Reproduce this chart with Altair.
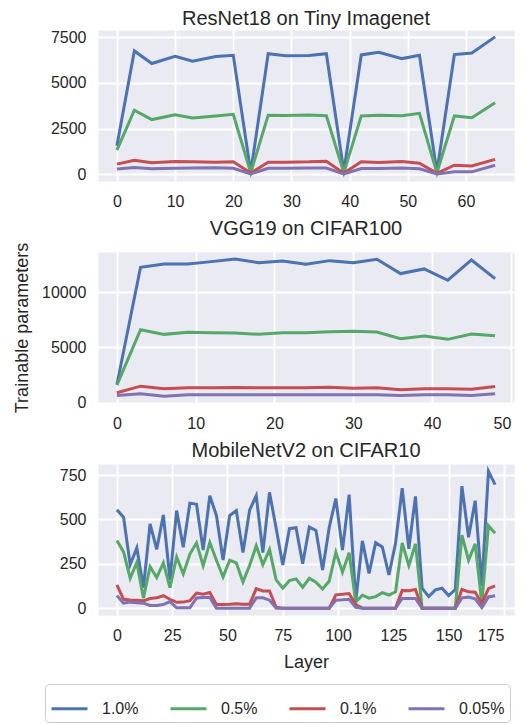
import altair as alt
import pandas as pd

series = ["1.0%", "0.5%", "0.1%", "0.05%"]
colors = ["#4C72B0", "#55A868", "#C44E52", "#8172B2"]

# ResNet18 on Tiny Imagenet
resnet_x = [0, 3, 6, 10, 13, 17, 20, 23, 26, 29, 33, 36, 39, 42, 45, 49, 52, 55, 58, 61, 65]
resnet_100 = [1550, 6750, 6060, 6460, 6190, 6440, 6510, 100, 6600, 6490, 6500, 6600, 150, 6530, 6680, 6330, 6515, 120, 6550, 6640, 7520]
resnet_050 = [1310, 3500, 2990, 3250, 3070, 3190, 3280, 80, 3230, 3210, 3240, 3200, 80, 3190, 3220, 3200, 3330, 80, 3190, 3090, 3910]
resnet_010 = [550, 765, 620, 690, 675, 655, 675, 60, 655, 655, 673, 710, 55, 673, 637, 690, 600, 40, 490, 445, 810]
resnet_005 = [275, 365, 290, 325, 330, 345, 325, 10, 325, 320, 330, 330, 5, 310, 310, 330, 290, 5, 127, 127, 490]

# VGG19 on CIFAR100
vgg_x = [0, 3, 6, 9, 12, 15, 18, 21, 24, 27, 30, 33, 36, 39, 42, 45, 48]
vgg_100 = [1650, 12240, 12540, 12540, 12750, 12990, 12660, 12810, 12510, 12840, 12660, 12960, 11670, 12090, 11070, 12900, 11220]
vgg_050 = [1600, 6600, 6180, 6360, 6330, 6300, 6180, 6330, 6330, 6420, 6450, 6390, 5790, 6030, 5730, 6210, 6060]
vgg_010 = [900, 1500, 1260, 1350, 1350, 1380, 1350, 1350, 1350, 1410, 1320, 1350, 1170, 1260, 1260, 1230, 1470]
vgg_005 = [660, 810, 600, 720, 720, 720, 720, 720, 720, 720, 720, 720, 660, 720, 720, 660, 810]

# MobileNetV2 on CIFAR10
mob_x = [0, 3, 6, 9, 12, 15, 18, 21, 24, 27, 30, 33, 36, 39, 42, 45, 48, 51, 54, 57,
         60, 63, 66, 69, 72, 75, 78, 81, 84, 87, 90, 93, 96, 99, 102, 105, 108, 111, 114, 117,
         120, 123, 126, 129, 132, 135, 138, 141, 144, 147, 150, 153, 156, 159, 162, 165, 168, 171]
mob_100 = [554, 513, 245, 340, 115, 475, 332, 525, 160, 550, 343, 592, 585, 327, 634, 522, 271, 522, 550, 313,
           552, 634, 313, 653, 450, 243, 448, 453, 250, 457, 438, 215, 455, 618, 328, 640, 40, 379, 196, 369,
           345, 187, 367, 676, 335, 630, 112, 65, 103, 112, 71, 105, 688, 400, 606, 125, 772, 696]
mob_050 = [382, 317, 168, 258, 56, 233, 172, 255, 116, 289, 193, 305, 368, 240, 370, 270, 176, 270, 255, 148,
           240, 352, 245, 330, 159, 112, 155, 165, 118, 168, 146, 108, 153, 315, 203, 312, 35, 73, 56, 65,
           87, 74, 92, 367, 240, 362, 0, 0, 0, 0, 0, 0, 412, 270, 362, 27, 465, 422]
mob_010 = [131, 50, 46, 45, 41, 54, 58, 70, 50, 33, 34, 42, 85, 78, 88, 20, 20, 22, 25, 22,
           22, 110, 97, 97, 5, 0, 0, 0, 0, 0, 0, 0, 0, 75, 78, 82, 20, 0, 0, 0,
           0, 0, 0, 100, 98, 105, 0, 0, 0, 0, 0, 0, 105, 92, 90, 25, 110, 125]
mob_005 = [71, 28, 34, 30, 28, 15, 15, 20, 37, 2, 2, 2, 57, 60, 60, 0, 0, 0, 0, 0,
           0, 58, 58, 45, 0, 0, 0, 0, 0, 0, 0, 0, 0, 45, 47, 50, 5, 0, 0, 0,
           0, 0, 0, 55, 55, 55, 0, 0, 0, 0, 0, 0, 58, 62, 52, 3, 63, 70]


def long_df(xs, ys_list):
    rows = []
    for s, ys in zip(series, ys_list):
        for x, y in zip(xs, ys):
            rows.append({"layer": x, "params": y, "pct": s})
    return pd.DataFrame(rows)


FONT = "Liberation Sans"
TXT = "#262626"
W = 416
H = 151

color = alt.Color(
    "pct:N",
    sort=series,
    scale=alt.Scale(domain=series, range=colors),
    legend=alt.Legend(
        title=None, orient="none", legendX=-53, legendY=654,
        direction="horizontal", columns=4,
        symbolType="stroke", symbolStrokeWidth=3, symbolSize=1296,
        labelFontSize=16, labelFont=FONT, labelColor=TXT, labelOffset=13,
        columnPadding=25, padding=5, strokeColor="#cccccc", cornerRadius=4,
        fillColor="white",
    ),
)


def panel(df, title, xdom, xvals, ydom, yvals, xtitle=None, ytitle=None, toff=3):
    xaxis = alt.Axis(values=xvals, format="d", labelPadding=12, labelFlush=12)
    yaxis = alt.Axis(values=yvals, format="d", labelPadding=12)
    if xtitle:
        x = alt.X("layer:Q", title=xtitle, scale=alt.Scale(domain=xdom, nice=False, zero=False), axis=xaxis)
    else:
        x = alt.X("layer:Q", title=None, scale=alt.Scale(domain=xdom, nice=False, zero=False), axis=xaxis)
    if ytitle:
        y = alt.Y("params:Q", title=ytitle, scale=alt.Scale(domain=ydom, nice=False, zero=False), axis=yaxis)
    else:
        y = alt.Y("params:Q", title=None, scale=alt.Scale(domain=ydom, nice=False, zero=False), axis=yaxis)
    return alt.Chart(df).mark_line(strokeWidth=3, clip=True).encode(
        x=x, y=y, color=color, detail="pct:N"
    ).properties(
        width=W, height=H,
        title=alt.TitleParams(title, fontSize=20, font=FONT, color=TXT, fontWeight="normal",
                              offset=toff, frame="group", anchor="middle"),
    )


top = panel(long_df(resnet_x, [resnet_100, resnet_050, resnet_010, resnet_005]),
            "ResNet18 on Tiny Imagenet", [-3.25, 68.25], [0, 10, 20, 30, 40, 50, 60],
            [-376, 7896], [0, 2500, 5000, 7500], toff=0)
mid = panel(long_df(vgg_x, [vgg_100, vgg_050, vgg_010, vgg_005]),
            "VGG19 on CIFAR100", [-2.4, 50.4], [0, 10, 20, 30, 40, 50],
            [-20, 13620], [0, 5000, 10000], ytitle="Trainable parameters")
bot = panel(long_df(mob_x, [mob_100, mob_050, mob_010, mob_005]),
            "MobileNetV2 on CIFAR10", [-8.55, 179.55], [0, 25, 50, 75, 100, 125, 150, 175],
            [-38.7, 812.7], [0, 250, 500, 750], xtitle="Layer")

chart = alt.vconcat(top, mid, bot, spacing=8).resolve_scale(
    x="independent", y="independent"
).properties(
    padding={"left": 5, "top": 0, "right": 0, "bottom": 0},
    background="white",
).configure_view(
    fill="#EAEAF2", stroke="transparent"
).configure_axis(
    domain=False, ticks=False, grid=True, gridColor="white", gridWidth=1.8,
    labelFont=FONT, labelFontSize=16, labelColor=TXT,
    titleFont=FONT, titleFontSize=18, titleColor=TXT, titleFontWeight="normal",
    titlePadding=10,
)

chart.save("out.html", embed_options={"renderer": "svg", "actions": False})
